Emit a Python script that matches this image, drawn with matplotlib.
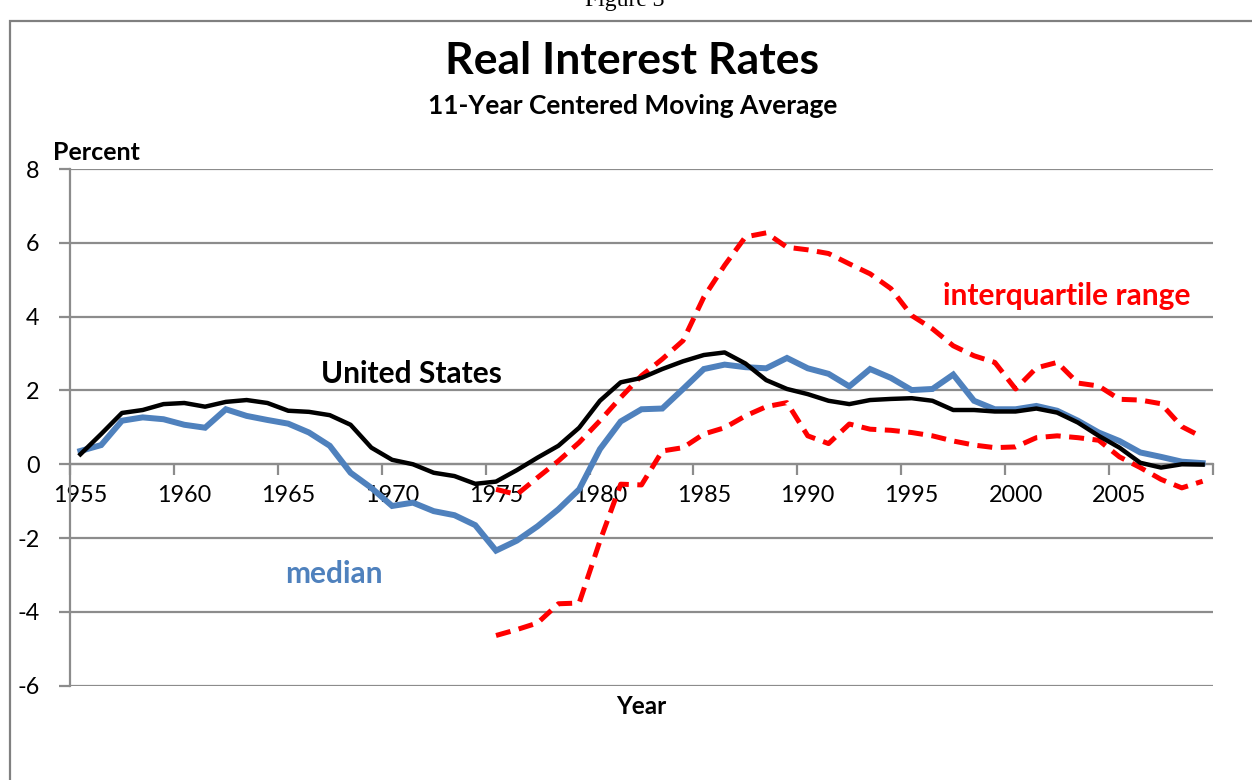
import matplotlib
matplotlib.use("Agg")
import matplotlib.pyplot as plt
import numpy as np
from matplotlib.patches import Rectangle

YEARS = list(range(1955, 2010))

US = [0.27, 0.82, 1.39, 1.47, 1.63, 1.66, 1.56, 1.69, 1.74, 1.66,
      1.45, 1.42, 1.33, 1.07, 0.45, 0.12, 0.00, -0.23, -0.32, -0.53,
      -0.47, -0.16, 0.18, 0.50, 0.99, 1.72, 2.22, 2.34, 2.58, 2.79,
      2.96, 3.03, 2.73, 2.28, 2.04, 1.90, 1.72, 1.63, 1.74, 1.77,
      1.79, 1.72, 1.47, 1.47, 1.43, 1.43, 1.51, 1.40, 1.13, 0.77,
      0.45, 0.04, -0.09, 0.00, -0.01]

MEDIAN = [0.36, 0.52, 1.18, 1.27, 1.22, 1.07, 0.99, 1.49, 1.31, 1.20,
          1.10, 0.86, 0.50, -0.23, -0.64, -1.13, -1.04, -1.27, -1.38, -1.65,
          -2.34, -2.07, -1.68, -1.22, -0.68, 0.41, 1.16, 1.49, 1.51, 2.04,
          2.58, 2.70, 2.63, 2.60, 2.88, 2.60, 2.45, 2.11, 2.58, 2.34,
          2.01, 2.04, 2.43, 1.72, 1.49, 1.49, 1.58, 1.45, 1.18, 0.86,
          0.63, 0.32, 0.20, 0.07, 0.03]

# interquartile range, available from 1975
IQR_YEARS = list(range(1975, 2010))
Q75 = [-0.68, -0.82, -0.36, 0.09, 0.59, 1.18, 1.81, 2.40, 2.85, 3.35,
       4.53, 5.39, 6.16, 6.27, 5.88, 5.81, 5.71, 5.43, 5.16, 4.76,
       4.03, 3.67, 3.21, 2.94, 2.76, 2.04, 2.61, 2.76, 2.20, 2.12,
       1.76, 1.74, 1.64, 1.02, 0.73]
Q25 = [-4.64, -4.48, -4.30, -3.78, -3.76, -2.08, -0.54, -0.56, 0.36, 0.45,
       0.82, 0.99, 1.31, 1.56, 1.67, 0.77, 0.56, 1.09, 0.95, 0.92,
       0.86, 0.77, 0.63, 0.52, 0.45, 0.47, 0.72, 0.77, 0.72, 0.65,
       0.20, -0.09, -0.41, -0.64, -0.46]

BLUE = "#4F81BD"
RED = "#FF0000"
GRID = "#8C8C8C"
FONT = "Lato"

W, H = 1252, 780
plt.rcParams["font.family"] = FONT
plt.rcParams["axes.unicode_minus"] = False
fig = plt.figure(figsize=(W / 100, H / 100), dpi=100)


def fx(px):
    return px / W


def fy(py):
    return 1 - py / H


# outer chart frame (runs off the right and bottom of the page)
fig.patches.append(Rectangle((fx(9.5), -0.1), 1.2, fy(21) + 0.1,
                             transform=fig.transFigure, fill=False,
                             edgecolor="#808080", linewidth=1.6))
fig.text(fx(625), fy(6), "Figure 3", ha="center", va="baseline",
         fontsize=17, family="Liberation Serif")

ax = fig.add_axes([fx(70), fy(685.7), fx(1213) - fx(70), fy(169) - fy(685.7)])
ax.set_xlim(1954.5, 2009.5)
ax.set_ylim(-6, 8)

ax.plot(YEARS, MEDIAN, color=BLUE, lw=4.3, solid_joinstyle="miter", zorder=3)
ax.plot(IQR_YEARS, Q75, color=RED, lw=3.6, dashes=(3.0, 1.7),
        dash_capstyle="butt", zorder=4)
ax.plot(IQR_YEARS, Q25, color=RED, lw=3.6, dashes=(3.0, 1.7),
        dash_capstyle="butt", zorder=4)
ax.plot(YEARS, US, color="black", lw=3.2, zorder=5)

for side in ("top", "right"):
    ax.spines[side].set_visible(False)
ax.spines["bottom"].set_position(("data", 0))
ax.spines["bottom"].set_color(GRID)
ax.spines["bottom"].set_linewidth(1.6)
ax.spines["left"].set_color(GRID)
ax.spines["left"].set_linewidth(1.6)

ax.set_yticks(range(-6, 9, 2))
ax.yaxis.grid(True, color=GRID, linewidth=1.6)
ax.set_axisbelow(True)
ax.tick_params(axis="y", length=8, width=1.6, color=GRID, pad=14,
               labelsize=16.8)

ax.set_xticks(np.arange(1954.5, 2010, 5))
ax.set_xticklabels([])
ax.set_xticks(range(1955, 2010, 5), minor=True)
ax.set_xticklabels([str(y) for y in range(1955, 2010, 5)], minor=True)
ax.tick_params(axis="x", which="major", length=8, width=1.6, color=GRID,
               direction="out")
ax.tick_params(axis="x", which="minor", length=0, pad=15, labelsize=16.8)

fig.text(fx(632), fy(61), "Real Interest Rates", ha="center", va="center",
         fontsize=32, fontweight="bold")
fig.text(fx(633), fy(106), "11-Year Centered Moving Average", ha="center",
         va="center", fontsize=19, fontweight="bold")
fig.text(fx(53), fy(153), "Percent", ha="left", va="center",
         fontsize=18, fontweight="bold")
fig.text(fx(641), fy(707), "Year", ha="center", va="center",
         fontsize=17.5, fontweight="bold")

ax.text(1970.94, 2.45, "United States", ha="center", va="center",
        fontsize=21.5, fontweight="bold", color="black")
ax.text(1967.19, -2.98, "median", ha="center", va="center",
        fontsize=21.5, fontweight="bold", color=BLUE)
ax.text(2002.46, 4.57, "interquartile range", ha="center", va="center",
        fontsize=21.5, fontweight="bold", color=RED)

fig.savefig("out.png", dpi=100)
